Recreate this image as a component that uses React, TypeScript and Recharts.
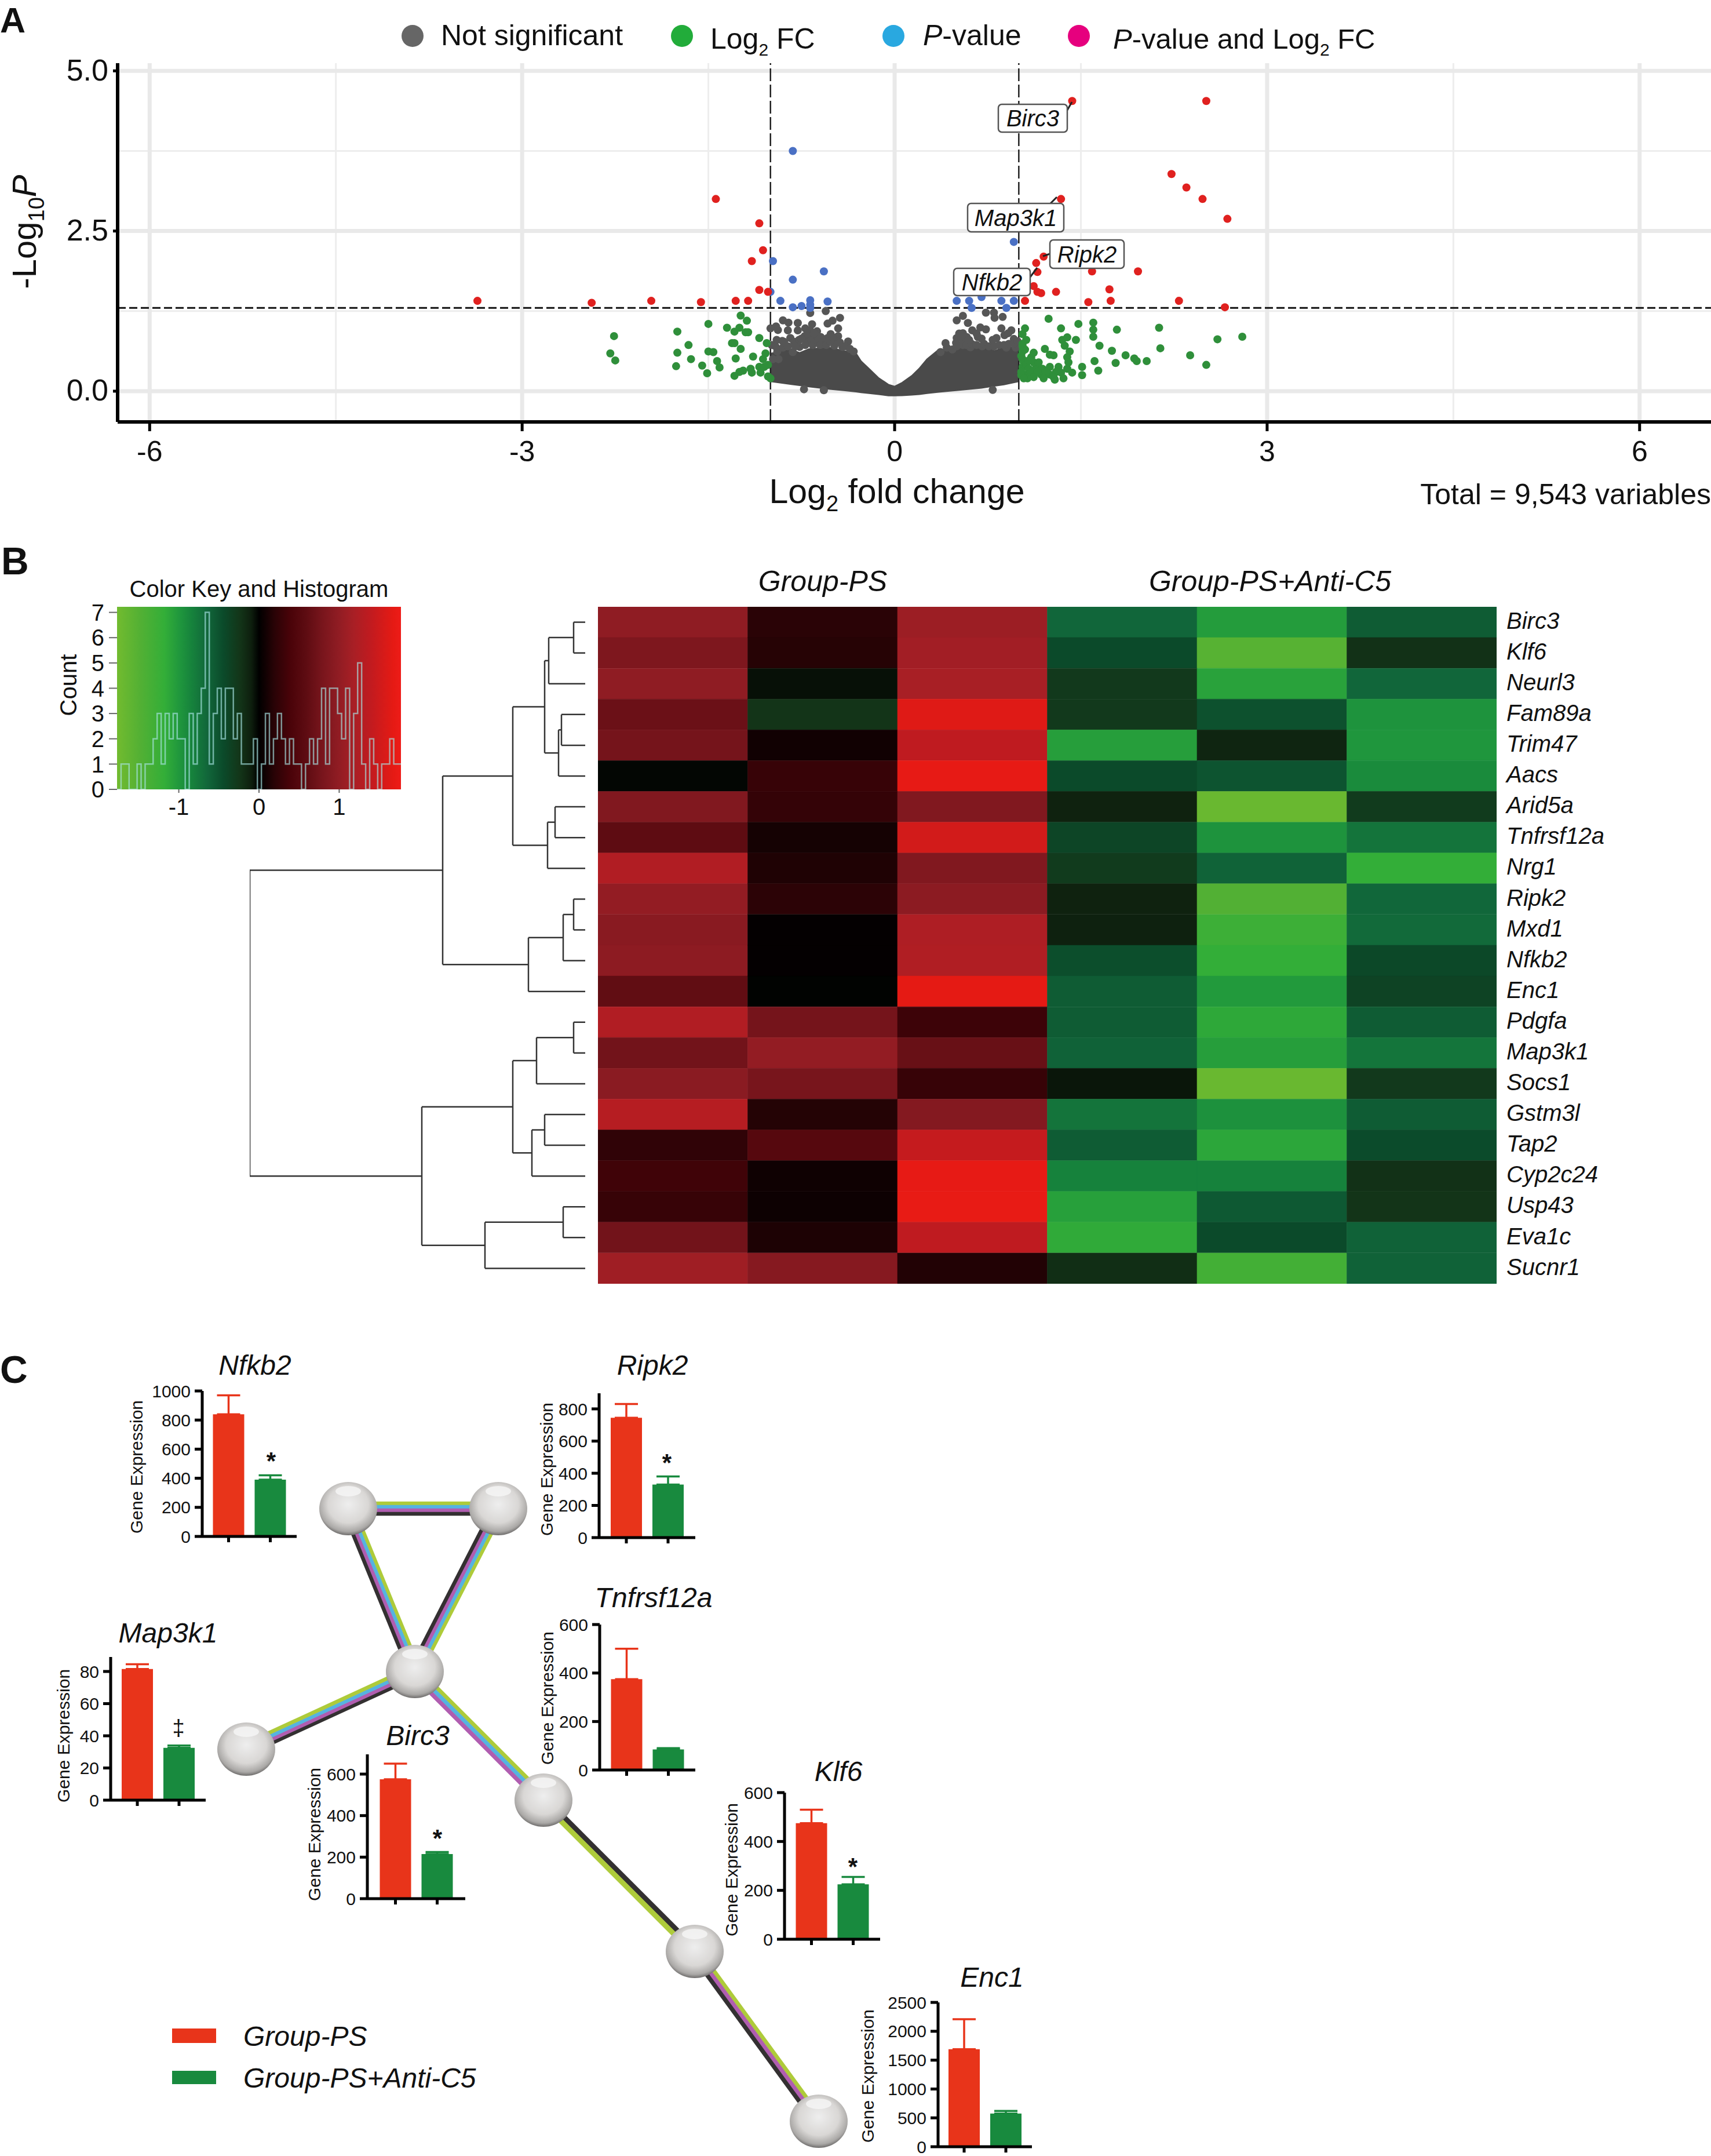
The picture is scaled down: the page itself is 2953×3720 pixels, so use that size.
import React from 'react';
import {
  Area, Bar, BarChart, CartesianGrid, Cell, ComposedChart, ErrorBar, Line,
  ReferenceLine, Scatter, XAxis, YAxis,
} from 'recharts';

const FONT = '"Liberation Sans", Arial, sans-serif';

/* ---------- Panel A: volcano ---------- */
const grayPoints = [
  [-.68,1.22],[-.555,1.25],[-.44,1.145],[-.5,1.1],[-.54,1.055],[-.9,1.105],[-.855,1.07],[-.78,1.065],[-.665,1.045],[-.455,.98],
  [-.955,1.01],[-1,.98],[-.94,.955],[-.86,.95],[-.78,.95],[-.72,.98],[-.68,.95],[-.625,.935],[-.515,.89],[-.455,.86],
  [-.95,.8],[-.905,.785],[-.89,.77],[-.84,.83],[-.81,.77],[-.77,.8],[-.725,.86],[-.69,.875],[-.655,.86],[-.595,.845],
  [-.54,.83],[-.485,.8],[-.375,.775],[-.7,.77],[-.67,.8],[-.765,.69],[-.565,.77],[-.485,.71],[-.42,.69],[-.945,.62],
  [-.82,.61],[-.935,.5],[-.98,.5],[-.73,.03],[-.57,.015],[.79,.02],
  [-.99,.72],[-.96,.7],[-.9,.68],[-.86,.7],[-.8,.7],[-.72,.72],[-.66,.72],[-.62,.78],[-.6,.72],[-.55,.72],[-.52,.78],[-.44,.76],
  [-.4,.7],[-.36,.66],[-.75,.82],[-.62,.86],[-.7,.9],[-.65,.9],[-.5,.84],[-.33,.62],
  [.55,1.175],[.5,1.105],[.735,1.225],[.8,1.225],[.87,1.16],[.805,1.145],[.59,1.065],[.69,.995],[.625,.95],[.735,.965],
  [.86,.98],[.94,.95],[.55,.905],[.58,.845],[.5,.83],[.67,.845],[.885,.875],[.82,.83],[.79,.8],[.41,.75],[.495,.755],
  [.555,.785],[.96,.815],[.915,.905],[.37,.61],[.61,.685],[.705,.7],[.975,.68],[.9,.68],[.465,.65],
  [.42,.68],[.5,.7],[.55,.72],[.58,.72],[.62,.74],[.66,.72],[.72,.74],[.76,.7],[.8,.7],[.84,.72],[.88,.72],[.92,.74],[.96,.74],
  [.99,.78],[.6,.8],[.52,.9],[.54,.86],[.66,.9],[.7,.82],
];
const greenPoints = [
  [-2.26,.86],[-2.29,.59],[-2.25,.48],[-1.75,.93],[-1.66,.72],[-1.75,.6],[-1.64,.5],[-1.76,.39],[-1.5,1.05],[-1.5,.62],
  [-1.46,.61],[-1.43,.47],[-1.55,.4],[-1.41,.37],[-1.51,.28],[-1.35,.99],[-1.29,.93],[-1.25,.99],[-1.24,1.18],[-1.19,1.1],
  [-1.2,.92],[-1.18,.92],[-1.09,.83],[-1.31,.75],[-1.29,.75],[-1.24,.66],[-1.28,.51],[-1.14,.54],[-1.03,.75],[-1.04,.59],
  [-1.06,.5],[-1.09,.38],[-1.16,.35],[-1.22,.32],[-1.25,.3],[-1.29,.24],[-1.15,.29],[-1.08,.29],[-1.02,.23],[-1,.2],
  [-1.02,.41],[-1.05,.38],
  [1.05,.98],[1.06,.8],[1.03,.89],[1.03,.74],[1.03,.62],[1.03,.5],[1.03,.38],[1.05,.26],[1.07,.2],[1.1,.53],[1.12,.6],
  [1.14,.38],[1.18,.26],[1.21,.66],[1.19,.35],[1.25,.26],[1.29,.18],[1.24,1.13],[1.34,.98],[1.48,1.05],[1.6,1.07],[1.6,.96],
  [1.6,.85],[1.35,.8],[1.39,.84],[1.46,.8],[1.65,.71],[1.37,.71],[1.41,.62],[1.39,.53],[1.28,.56],[1.25,.57],[1.4,.45],
  [1.32,.38],[1.39,.35],[1.43,.29],[1.25,.38],[1.34,.29],[1.51,.38],[1.51,.25],[1.64,.32],[1.61,.47],[1.75,.63],[1.78,.44],
  [1.86,.56],[1.93,.51],[1.95,.47],[2.03,.47],[1.79,.96],[2.13,.99],[2.14,.67],[2.38,.56],[2.51,.41],[2.6,.81],[2.8,.85],
  [1.02,.55],[1.04,.45],[1.06,.42],[1.08,.35],[1.02,.3],[1.1,.3],[1.12,.45],[1.15,.3],[1.08,.48],[1.05,.65],[1.03,.7],
  [1.02,.25],[1.04,.2],[1.12,.22],[1.16,.45],[1.22,.3],[1.3,.3],[1.28,.22],[1.36,.2],[1.2,.2],
];
const bluePoints = [
  [-.82,3.75],[-.98,2.03],[-.57,1.87],[-.82,1.74],[-1,1.55],[-.92,1.41],[-.82,1.31],[-.75,1.33],[-.68,1.42],[-.68,1.35],
  [-.68,1.3],[-.54,1.4],[.96,2.33],[.5,1.41],[.6,1.41],[.62,1.3],[.7,1.47],[.96,1.41],[.9,1.3],[.86,1.41],
];
const redPoints = [
  [-3.36,1.41],[-2.44,1.38],[-1.96,1.41],[-1.56,1.39],[-1.28,1.41],[-1.18,1.41],[-1.44,3],[-1.09,2.62],[-1.06,2.2],[-1.15,2.03],
  [-1.09,1.58],[-1.02,1.55],[1.43,4.53],[2.51,4.53],[2.23,3.39],[2.35,3.18],[2.48,3],[2.68,2.69],[1.34,3],[1.2,2.1],[1.14,2],
  [1.15,1.86],[1.59,1.87],[1.96,1.87],[1.12,1.64],[1.15,1.55],[1.18,1.53],[1.3,1.55],[1.73,1.59],[1.05,1.41],[1.56,1.39],
  [1.74,1.41],[2.29,1.41],[2.66,1.31],
];
const cloudX = [-1,-.83,-.765,-.69,-.52,-.41,-.31,-.27,-.205,-.13,-.05,0,.06,.137,.2,.26,.355,.43,.495,.7,.805,.88,1];
const cloudLow = [.15,.105,.09,.07,.03,.01,-.01,-.02,-.035,-.05,-.07,-.07,-.068,-.06,-.05,-.035,-.015,0,.01,.05,.08,.1,.15];
const cloudHigh = [.59,.65,.6,.66,.68,.63,.59,.47,.35,.21,.105,.075,.135,.24,.36,.5,.65,.65,.68,.72,.63,.69,.68];
const xMajor = [-6, -3, 0, 3, 6];
const xMinor = [-4.5, -1.5, 1.5, 4.5];
const yMajor = [0, 2.5, 5];
const yMinor = [1.25, 3.75];

const toPts = (a: number[][]) => a.map(([x, y]) => ({ x, y }));
const cloudData = cloudX.map((x, i) => ({ x, band: [cloudLow[i], cloudHigh[i]] }));
const dot = (fill: string) => (p: any) => <circle cx={p.cx} cy={p.cy} r={7} fill={fill} />;

const volcanoLabels = [
  { gene: 'Birc3', x: 1723, y: 180, w: 119, h: 48, lx: 1842, ly: 190, px: 1850, py: 176 },
  { gene: 'Map3k1', x: 1670, y: 351, w: 166, h: 49, lx: 1813, ly: 351, px: 1824, py: 340 },
  { gene: 'Ripk2', x: 1812, y: 414, w: 128, h: 49, lx: 1812, ly: 438, px: 1800, py: 442 },
  { gene: 'Nfkb2', x: 1646, y: 463, w: 132, h: 47, lx: 1778, ly: 478, px: 1790, py: 462 },
];

/* ---------- Panel B: heat map ---------- */
const heatGenes = ['Birc3','Klf6','Neurl3','Fam89a','Trim47','Aacs','Arid5a','Tnfrsf12a','Nrg1','Ripk2','Mxd1','Nfkb2','Enc1','Pdgfa','Map3k1','Socs1','Gstm3l','Tap2','Cyp2c24','Usp43','Eva1c','Sucnr1'];
const heatZ = [
  [1, .2, 1.1, -.65, -1.05, -.58],
  [.85, .18, 1.15, -.45, -1.55, -.22],
  [1, -.05, 1.2, -.28, -1.1, -.65],
  [.7, -.24, 1.65, -.28, -.5, -.98],
  [.78, .08, 1.4, -1.07, -.14, -1],
  [-.02, .28, 1.72, -.45, -.52, -.92],
  [.88, .26, .88, -.12, -1.72, -.3],
  [.6, .1, 1.55, -.4, -.98, -.75],
  [1.28, .15, .88, -.3, -.63, -1.2],
  [1.03, .21, .97, -.12, -1.5, -.66],
  [.95, .02, 1.25, -.11, -1.3, -.68],
  [.98, .02, 1.27, -.48, -1.2, -.43],
  [.62, -.01, 1.7, -.58, -1.03, -.38],
  [1.28, .78, .32, -.58, -1.15, -.58],
  [.75, 1.03, .68, -.62, -1.07, -.76],
  [.96, .8, .28, -.07, -1.72, -.28],
  [1.32, .17, .9, -.75, -.96, -.58],
  [.24, .52, 1.45, -.58, -1.13, -.46],
  [.34, .07, 1.72, -.85, -.85, -.22],
  [.28, .06, 1.73, -1.08, -.56, -.24],
  [.75, .14, 1.4, -1.17, -.45, -.62],
  [1.13, .92, .16, -.2, -1.35, -.62],
];
const colorStops: [number, string][] = [
  [-1.8,'#72bb2f'],[-1.5,'#52b034'],[-1.2,'#33ae38'],[-1,'#1f963d'],[-.85,'#16823c'],[-.65,'#11663a'],[-.45,'#0b4a2a'],
  [-.25,'#133619'],[-.1,'#0e1f0e'],[0,'#000000'],[.2,'#2a0306'],[.4,'#4a0309'],[.6,'#5e0c12'],[.8,'#78151c'],[1,'#8f1c23'],
  [1.2,'#a81f25'],[1.4,'#bf1b20'],[1.7,'#e51a14'],[1.8,'#ee1c18'],
];
const hex = (c: string) => [1, 3, 5].map((i) => parseInt(c.slice(i, i + 2), 16));
const zColor = (z: number) => {
  for (let i = 1; i < colorStops.length; i++) {
    if (z <= colorStops[i][0]) {
      const [z0, c0] = colorStops[i - 1];
      const [z1, c1] = colorStops[i];
      const t = (z - z0) / (z1 - z0);
      const a = hex(c0), b = hex(c1);
      return `rgb(${a.map((v, k) => Math.round(v + (b[k] - v) * t)).join(',')})`;
    }
  }
  return colorStops[colorStops.length - 1][1];
};
const heatCols = [0, 1, 2, 3, 4, 5];
const heatData = heatGenes.map((gene) => ({ gene, c0: 1, c1: 1, c2: 1, c3: 1, c4: 1, c5: 1 }));

// node ids: 0-21 are the rows, 22+ are the merges in order
const dendroMerges: [number, number, number][] = [
  [0,1,20],[22,2,63],[3,4,41],[24,5,46],[23,25,70],[6,7,52],[27,8,65],[26,28,125],
  [9,10,20],[30,11,38],[31,12,98],[29,32,246],
  [13,14,20],[34,15,84],[16,17,70],[36,18,92],[35,37,125],[19,20,38],[39,21,173],[38,40,282],[33,41,579],
];
const dendroSegments = (() => {
  const pos: { h: number; y: number }[] = heatGenes.map((_, i) => ({ h: 0, y: i + 0.5 }));
  const segs: [number, number, number, number][] = [];
  dendroMerges.forEach(([a, b, h]) => {
    const pa = pos[a], pb = pos[b];
    segs.push([pa.h, pa.y, h, pa.y], [pb.h, pb.y, h, pb.y], [h, pa.y, h, pb.y]);
    pos.push({ h, y: (pa.y + pb.y) / 2 });
  });
  return segs;
})();

const histStart = -1.77;
const histBin = 0.05;
const histCounts = [0,1,1,0,0,1,0,1,1,2,3,1,3,2,3,2,2,0,3,1,3,4,7,1,3,4,2,4,4,2,3,1,1,1,2,0,1,3,1,2,3,2,1,2,1,1,0,1,2,1,2,4,1,4,4,3,2,4,0,3,5,1,0,2,1,0,1,1,2,1,1];
const histData = [...histCounts, histCounts[histCounts.length - 1]].map((count, k) => ({ x: histStart + k * histBin, count }));
const keyTop = 7.22;
const keySpan = [{ x: -1.77, top: keyTop }, { x: 1.77, top: keyTop }];

/* ---------- Panel C: bars and network ---------- */
const RED = '#e8341a';
const GREEN = '#188a3e';
const barCharts = [
  { gene: 'Nfkb2', ps: 840, psTop: 970, c5: 390, c5Top: 420, max: 1000, ticks: [0,200,400,600,800,1000], mark: '*' },
  { gene: 'Ripk2', ps: 745, psTop: 830, c5: 330, c5Top: 380, max: 897, ticks: [0,200,400,600,800], mark: '*' },
  { gene: 'Tnfrsf12a', ps: 375, psTop: 500, c5: 85, c5Top: 90, max: 600, ticks: [0,200,400,600], mark: '' },
  { gene: 'Klf6', ps: 475, psTop: 530, c5: 225, c5Top: 255, max: 600, ticks: [0,200,400,600], mark: '*' },
  { gene: 'Enc1', ps: 1690, psTop: 2210, c5: 575, c5Top: 620, max: 2500, ticks: [0,500,1000,1500,2000,2500], mark: '' },
  { gene: 'Map3k1', ps: 81.5, psTop: 84.5, c5: 32.5, c5Top: 34, max: 89, ticks: [0,20,40,60,80], mark: '‡' },
  { gene: 'Birc3', ps: 575, psTop: 650, c5: 215, c5Top: 225, max: 695, ticks: [0,200,400,600], mark: '*' },
];
// page placement of each small chart: axis x, right end, zero line, top of axis, title, axis title, mark
const barLayout: Record<string, any> = {
  Nfkb2: { ax: 349, right: 512, y0: 2651, top: 2400, tx: 440, ty: 2372, gx: 236, gy: 2531, mx: 468, my: 2535 },
  Ripk2: { ax: 1034, right: 1200, y0: 2653, top: 2404, tx: 1126, ty: 2372, gx: 944, gy: 2535, mx: 1151, my: 2538 },
  Tnfrsf12a: { ax: 1035, right: 1200, y0: 3054, top: 2803, tx: 1128, ty: 2773, gx: 945, gy: 2930, mx: 0, my: 0 },
  Klf6: { ax: 1354, right: 1519, y0: 3346, top: 3093, tx: 1447, ty: 3073, gx: 1263, gy: 3226, mx: 1472, my: 3235 },
  Enc1: { ax: 1619, right: 1781, y0: 3704, top: 3455, tx: 1712, ty: 3428, gx: 1498, gy: 3582, mx: 0, my: 0 },
  Map3k1: { ax: 191, right: 355, y0: 3106, top: 2859, tx: 290, ty: 2834, gx: 110, gy: 2995, mx: 308, my: 2994 },
  Birc3: { ax: 634, right: 803, y0: 3276, top: 3027, tx: 721, ty: 3011, gx: 543, gy: 3165, mx: 755, my: 3186 },
};

const netNodes = [
  { id: 1, x: 601, y: 2603 }, { id: 2, x: 860, y: 2603 }, { id: 3, x: 716, y: 2884 }, { id: 4, x: 425, y: 3018 },
  { id: 5, x: 938, y: 3106 }, { id: 6, x: 1199, y: 3367 }, { id: 7, x: 1413, y: 3660 },
];
const LIME = '#aecb3a', SKY = '#55b3e0', PURPLE = '#b05db0', INK = '#333031';
const netEdges: [number, number, string[]][] = [
  [1, 2, [LIME, SKY, PURPLE, INK]],
  [1, 3, [LIME, SKY, PURPLE, INK]],
  [2, 3, [LIME, SKY, PURPLE, INK]],
  [3, 4, [INK, PURPLE, SKY, LIME]],
  [3, 5, [LIME, SKY, PURPLE]],
  [5, 6, [INK, LIME]],
  [6, 7, [LIME, PURPLE, INK]],
];
const netLines = netEdges.flatMap(([a, b, colors]) => {
  const A = netNodes[a - 1], B = netNodes[b - 1];
  const dx = B.x - A.x, dy = B.y - A.y, len = Math.hypot(dx, dy);
  const nx = -dy / len, ny = dx / len;
  const band = (10 + 3.5 * colors.length) / colors.length;
  return colors.map((stroke, i) => {
    const off = (i - (colors.length - 1) / 2) * band;
    return { stroke, band, seg: [{ x: A.x + nx * off, y: A.y + ny * off }, { x: B.x + nx * off, y: B.y + ny * off }] };
  });
});
const sphere = (p: any) => (
  <g>
    <ellipse cx={p.cx} cy={p.cy} rx={50} ry={46} fill="url(#sphereGrad)" />
    <ellipse cx={p.cx} cy={p.cy - 30} rx={22} ry={9} fill="#f6f6f6" opacity={0.8} />
  </g>
);

const at = (left: number, top: number): React.CSSProperties => ({ position: 'absolute', left, top });
const T = (p: any) => <text fontFamily={FONT} fill="#111" {...p} />;

function MiniBar({ d }: { d: (typeof barCharts)[number] }) {
  const L = barLayout[d.gene];
  const yw = 110;
  const w = L.right - L.ax;
  const spacing = 72;
  const pad = (w - 2 * spacing) / 2;
  const rows = [
    { name: 'Group-PS', value: d.ps, errPs: [0, d.psTop - d.ps] },
    { name: 'Group-PS+Anti-C5', value: d.c5, errC5: [0, d.c5Top - d.c5] },
  ];
  const ink = { stroke: '#000', strokeWidth: 5 };
  return (
    <div style={at(L.ax - yw, L.top - 20)}>
      <BarChart width={yw + w} height={L.y0 - L.top + 20 + 26} data={rows} margin={{ top: 20, right: 0, bottom: 0, left: 0 }}>
        <XAxis dataKey="name" type="category" height={26} axisLine={ink} tickLine={ink} tickSize={10} tickFormatter={() => ''} padding={{ left: pad, right: pad }} interval={0} />
        <YAxis type="number" width={yw} domain={[0, d.max]} ticks={d.ticks} interval={0} axisLine={ink} tickLine={ink} tickSize={13} tickMargin={7}
          tick={{ fontFamily: FONT, fontSize: 30, fill: '#111' }} allowDataOverflow />
        <Bar dataKey="value" barSize={54} isAnimationActive={false}>
          <Cell fill={RED} />
          <Cell fill={GREEN} />
          <ErrorBar dataKey="errPs" direction="y" width={20} strokeWidth={3.5} stroke={RED} isAnimationActive={false} />
          <ErrorBar dataKey="errC5" direction="y" width={20} strokeWidth={3.5} stroke={GREEN} isAnimationActive={false} />
        </Bar>
      </BarChart>
    </div>
  );
}

export default function App() {
  const axisInk = { stroke: '#000', strokeWidth: 6 };
  return (
    <div style={{ ...at(0, 0), width: 2953, height: 3720, background: '#fff', overflow: 'hidden', fontFamily: FONT }}>
      <svg width={0} height={0} style={at(0, 0)}>
        <defs>
          <linearGradient id="keyGrad" x1="0" x2="1" y1="0" y2="0">
            {colorStops.map(([z, c]) => (
              <stop key={z} offset={(z + 1.8) / 3.6} stopColor={c} />
            ))}
          </linearGradient>
          <radialGradient id="sphereGrad" cx="0.5" cy="0.42" r="0.58">
            <stop offset="0" stopColor="#eeeeee" />
            <stop offset="0.6" stopColor="#d9d7d5" />
            <stop offset="0.88" stopColor="#aaa8a6" />
            <stop offset="1" stopColor="#6f6d6c" />
          </radialGradient>
        </defs>
      </svg>

      {/* Panel A */}
      <div style={at(0, 0)}>
        <ComposedChart width={2953} height={830} margin={{ top: 109, right: 0, bottom: 0, left: 0 }}>
          <CartesianGrid stroke="#ededed" strokeWidth={3} horizontalValues={yMinor} verticalValues={xMinor} />
          <CartesianGrid stroke="#e9e9e9" strokeWidth={7} horizontalValues={yMajor} verticalValues={xMajor} />
          <XAxis dataKey="x" type="number" domain={[-6.258, 6.575]} ticks={xMajor} interval={0} height={102} axisLine={axisInk} tickLine={{ stroke: '#000', strokeWidth: 5 }}
            tickSize={16} tickMargin={16} tick={{ fontFamily: FONT, fontSize: 50, fill: '#111' }} allowDataOverflow />
          <YAxis type="number" domain={[-0.48, 5.12]} ticks={yMajor} interval={0} width={203} axisLine={axisInk} tickLine={{ stroke: '#000', strokeWidth: 5 }}
            tickSize={8} tickMargin={8} tick={{ fontFamily: FONT, fontSize: 52, fill: '#111', dy: -2 }} tickFormatter={(v: number) => v.toFixed(1)} allowDataOverflow />
          <Area data={cloudData} dataKey="band" stroke="#4a4a4a" strokeWidth={2} fill="#4a4a4a" fillOpacity={1} type="linear" dot={false} activeDot={false} isAnimationActive={false} />
          <Scatter data={toPts(grayPoints)} dataKey="y" shape={dot('#565656')} isAnimationActive={false} />
          <Scatter data={toPts(greenPoints)} dataKey="y" shape={dot('#2f8f3a')} isAnimationActive={false} />
          <Scatter data={toPts(bluePoints)} dataKey="y" shape={dot('#4a70c4')} isAnimationActive={false} />
          <Scatter data={toPts(redPoints)} dataKey="y" shape={dot('#e0211f')} isAnimationActive={false} />
          <ReferenceLine y={1.3} stroke="#111" strokeWidth={3} strokeDasharray="14 6" />
          <ReferenceLine x={-1} stroke="#222" strokeWidth={2.5} strokeDasharray="22 6" />
          <ReferenceLine x={1} stroke="#222" strokeWidth={2.5} strokeDasharray="22 6" />
        </ComposedChart>
      </div>

      {/* Panel B */}
      <div style={at(140, 1027)}>
        <ComposedChart width={552} height={395} margin={{ top: 20, right: 0, bottom: 0, left: 0 }}>
          <XAxis dataKey="x" type="number" domain={[-1.77, 1.77]} ticks={[-1, 0, 1]} interval={0} height={60} axisLine={false} tickLine={{ stroke: '#666', strokeWidth: 2 }}
            tickSize={6} tickMargin={10} tick={{ fontFamily: FONT, fontSize: 40, fill: '#111' }} allowDataOverflow />
          <YAxis type="number" domain={[0, keyTop]} ticks={[0, 1, 2, 3, 4, 5, 6, 7]} interval={0} width={62} axisLine={false} tickLine={{ stroke: '#666', strokeWidth: 2 }}
            tickSize={14} tickMargin={8} tick={{ fontFamily: FONT, fontSize: 40, fill: '#111' }} allowDataOverflow />
          <Area data={keySpan} dataKey="top" stroke="none" fill="url(#keyGrad)" fillOpacity={1} type="linear" dot={false} activeDot={false} isAnimationActive={false} />
          <Line data={histData} dataKey="count" type="stepAfter" stroke="#a8e4e4" strokeOpacity={0.65} strokeWidth={2.5} dot={false} activeDot={false} isAnimationActive={false} />
        </ComposedChart>
      </div>

      <div style={at(431, 1047)}>
        <ComposedChart width={579} height={1168} margin={{ top: 0, right: 0, bottom: 0, left: 0 }}>
          <XAxis hide type="number" dataKey="x" domain={[0, 579]} reversed allowDataOverflow />
          <YAxis hide type="number" domain={[0, 22]} reversed allowDataOverflow />
          {dendroSegments.map(([h1, y1, h2, y2], i) => (
            <ReferenceLine key={i} segment={[{ x: h1, y: y1 }, { x: h2, y: y2 }]} stroke="#333" strokeWidth={2.5} ifOverflow="visible" />
          ))}
        </ComposedChart>
      </div>

      <div style={at(1032, 1047)}>
        <BarChart width={1921} height={1168} layout="vertical" data={heatData} barCategoryGap={0} barGap={0} margin={{ top: 0, right: 0, bottom: 0, left: 0 }}>
          <XAxis hide type="number" domain={[0, 6]} allowDataOverflow />
          <YAxis type="category" dataKey="gene" orientation="right" width={370} interval={0} axisLine={false} tickLine={false} tickMargin={11}
            tick={{ fontFamily: FONT, fontSize: 40, fontStyle: 'italic', fill: '#111', dy: -3 }} />
          {heatCols.map((c) => (
            <Bar key={c} dataKey={`c${c}`} stackId="h" isAnimationActive={false}>
              {heatGenes.map((g, r) => (
                <Cell key={g} fill={zColor(heatZ[r][c])} stroke={zColor(heatZ[r][c])} strokeWidth={0.6} />
              ))}
            </Bar>
          ))}
        </BarChart>
      </div>

      {/* Panel C network */}
      <div style={at(340, 2500)}>
        <ComposedChart width={1200} height={1220} margin={{ top: 0, right: 0, bottom: 0, left: 0 }}>
          <XAxis hide type="number" dataKey="x" domain={[340, 1540]} allowDataOverflow />
          <YAxis hide type="number" domain={[2500, 3720]} reversed allowDataOverflow />
          {netLines.map((l, i) => (
            <ReferenceLine key={i} segment={l.seg as any} stroke={l.stroke} strokeWidth={l.band + 0.5} ifOverflow="visible" />
          ))}
          <Scatter data={netNodes} dataKey="y" shape={sphere} isAnimationActive={false} />
        </ComposedChart>
      </div>

      {barCharts.map((d) => (
        <MiniBar key={d.gene} d={d} />
      ))}

      {/* text */}
      <svg width={2953} height={3720} style={{ ...at(0, 0), pointerEvents: 'none' }}>
        <T x={0} y={56} fontSize={61} fontWeight="bold">A</T>
        <T x={2} y={991} fontSize={66} fontWeight="bold">B</T>
        <T x={0} y={2386} fontSize={66} fontWeight="bold">C</T>

        <circle cx={712} cy={62} r={19} fill="#666666" />
        <T x={761} y={78} fontSize={50}>Not significant</T>
        <circle cx={1177} cy={62} r={19} fill="#22ac3a" />
        <T x={1226} y={84} fontSize={50}>Log<tspan dy={12} fontSize={30}>2</tspan><tspan dy={-12}> FC</tspan></T>
        <circle cx={1542} cy={62} r={19} fill="#29a8e0" />
        <T x={1593} y={78} fontSize={50}><tspan fontStyle="italic">P</tspan>-value</T>
        <circle cx={1862} cy={62} r={19} fill="#e6007e" />
        <T x={1921} y={84} fontSize={49}><tspan fontStyle="italic">P</tspan>-value and Log<tspan dy={12} fontSize={30}>2</tspan><tspan dy={-12}> FC</tspan></T>

        <T x={1548} y={868} fontSize={59} textAnchor="middle">Log<tspan dy={14} fontSize={38}>2</tspan><tspan dy={-14}> fold change</tspan></T>
        <T x={2953} y={870} fontSize={50} textAnchor="end">Total = 9,543 variables</T>
        <T transform="rotate(-90 62 400)" x={62} y={400} fontSize={58} textAnchor="middle">-Log<tspan dy={14} fontSize={38}>10</tspan><tspan dy={-14} fontStyle="italic">P</tspan></T>

        {volcanoLabels.map((l) => (
          <g key={l.gene}>
            <line x1={l.lx} y1={l.ly} x2={l.px} y2={l.py} stroke="#222" strokeWidth={3} />
            <rect x={l.x} y={l.y} width={l.w} height={l.h} rx={6} fill="#fff" stroke="#555" strokeWidth={2.5} />
            <T x={l.x + l.w / 2} y={l.y + l.h / 2 + 14} fontSize={40} fontStyle="italic" textAnchor="middle">{l.gene}</T>
          </g>
        ))}

        <T x={447} y={1030} fontSize={40} textAnchor="middle">Color Key and Histogram</T>
        <T transform="rotate(-90 132 1182)" x={132} y={1182} fontSize={40} textAnchor="middle">Count</T>
        <T x={1420} y={1020} fontSize={50} fontStyle="italic" textAnchor="middle">Group-PS</T>
        <T x={2192} y={1020} fontSize={50} fontStyle="italic" textAnchor="middle">Group-PS+Anti-C5</T>

        {barCharts.map((d) => {
          const L = barLayout[d.gene];
          return (
            <g key={d.gene}>
              <T x={L.tx} y={L.ty} fontSize={48} fontStyle="italic" textAnchor="middle">{d.gene}</T>
              <T transform={`rotate(-90 ${L.gx} ${L.gy})`} x={L.gx} y={L.gy} dy={10} fontSize={30} textAnchor="middle">Gene Expression</T>
              {d.mark ? <T x={L.mx} y={L.my} fontSize={d.mark === '*' ? 42 : 38} fontWeight={d.mark === '*' ? 'bold' : 'normal'} textAnchor="middle">{d.mark}</T> : null}
            </g>
          );
        })}

        <rect x={297} y={3500} width={76} height={25} fill={RED} />
        <T x={420} y={3530} fontSize={48} fontStyle="italic">Group-PS</T>
        <rect x={297} y={3573} width={76} height={23} fill={GREEN} />
        <T x={420} y={3602} fontSize={48} fontStyle="italic">Group-PS+Anti-C5</T>
      </svg>
    </div>
  );
}
